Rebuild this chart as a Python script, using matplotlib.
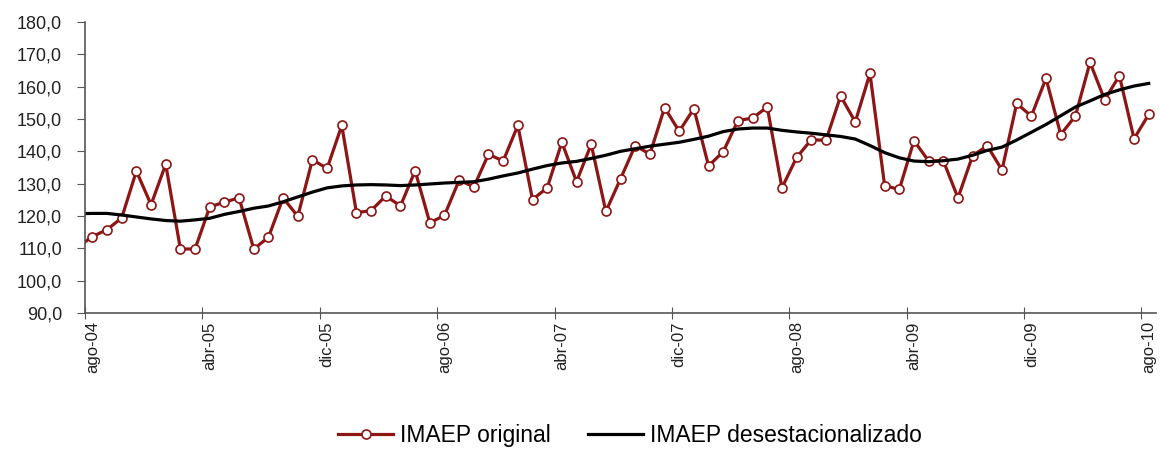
import numpy as np
import matplotlib
matplotlib.use('Agg')
import matplotlib.pyplot as plt

plt.rcParams['font.family'] = ['Liberation Sans', 'DejaVu Sans']

# monthly series, jul-04 .. ago-10 (jul-04 sits just left of the axis and is clipped)
imaep_original = [110.4, 113.6, 115.8, 119.4, 133.9, 123.5,
                  136.0, 109.8, 109.8, 122.8, 124.3, 125.6, 109.8, 113.4, 125.6, 119.9, 137.4, 134.7,
                  148.0, 121.0, 121.7, 126.2, 123.1, 134.0, 117.9, 120.2, 131.1, 129.0, 139.1, 137.0,
                  148.0, 125.1, 128.7, 142.8, 130.6, 142.2, 121.4, 131.5, 141.8, 139.1, 153.5, 146.2,
                  153.2, 135.5, 139.9, 149.5, 150.3, 153.7, 128.7, 138.1, 143.6, 143.4, 157.1, 149.1,
                  164.1, 129.4, 128.2, 143.3, 137.0, 137.1, 125.6, 138.7, 141.7, 134.2, 154.8, 150.9,
                  162.6, 145.2, 150.9, 167.5, 155.9, 163.4, 143.9, 151.4]

imaep_desest = [120.7, 120.8, 120.8, 120.3, 119.7, 119.1,
                118.6, 118.4, 118.8, 119.3, 120.5, 121.4, 122.4, 123.1, 124.4, 125.9, 127.4, 128.7,
                129.3, 129.6, 129.7, 129.6, 129.4, 129.6, 129.9, 130.2, 130.4, 130.6, 131.4, 132.4,
                133.3, 134.5, 135.6, 136.4, 136.9, 137.8, 138.8, 140.0, 140.8, 141.6, 142.2, 142.8,
                143.7, 144.7, 146.1, 146.9, 147.2, 147.2, 146.5, 146.0, 145.6, 145.1, 144.6, 143.8,
                141.8, 139.6, 138.0, 137.0, 136.8, 137.1, 137.6, 138.8, 140.3, 141.3, 143.5, 145.9,
                148.3, 151.0, 153.7, 155.6, 157.6, 159.0, 160.2, 161.0]

tick_labels = ['ago-04', 'abr-05', 'dic-05', 'ago-06', 'abr-07',
               'dic-07', 'ago-08', 'abr-09', 'dic-09', 'ago-10']

x = np.arange(len(imaep_original)) - 1   # ago-04 -> 0

fig = plt.figure(figsize=(11.6, 4.49), dpi=100)
ax = fig.add_axes([0.0733, 0.3029, 0.9233, 0.6481])

red = '#8c1515'
ax.plot(x, imaep_original, color=red, lw=2.3, marker='o', ms=6.5,
        mfc='white', mec=red, mew=1.2, label='IMAEP original')
ax.plot(x, imaep_desest, color='black', lw=2.3, label='IMAEP desestacionalizado')

ax.set_xlim(-0.5, 72.5)
ax.set_ylim(90, 180)
ax.set_yticks(np.arange(90, 181, 10))
ax.set_yticklabels([('%.1f' % v).replace('.', ',') for v in np.arange(90, 181, 10)],
                   fontsize=13, color='#222222')

# tick marks at slot edges, labels at slot centres
ax.set_xticks(np.arange(-0.5, 73, 8))
ax.set_xticklabels([])
ax.set_xticks(np.arange(0, 73, 8), minor=True)
ax.set_xticklabels(tick_labels, minor=True, rotation=90, fontsize=12, color='#222222')
ax.tick_params(axis='x', which='major', direction='inout', length=8, color='#555555')
ax.tick_params(axis='x', which='minor', length=0, pad=6)
ax.tick_params(axis='y', direction='out', length=5.5, pad=11, color='#555555')

for s in ['top', 'right']:
    ax.spines[s].set_visible(False)
for s in ['left', 'bottom']:
    ax.spines[s].set_color('#555555')
    ax.spines[s].set_linewidth(1.2)

fig.legend(loc='center', bbox_to_anchor=(0.543, 0.03), ncol=2, frameon=False,
           fontsize=16.5, handlelength=2.4, handletextpad=0.3, columnspacing=1.6)

plt.savefig('out.png', dpi=100)
